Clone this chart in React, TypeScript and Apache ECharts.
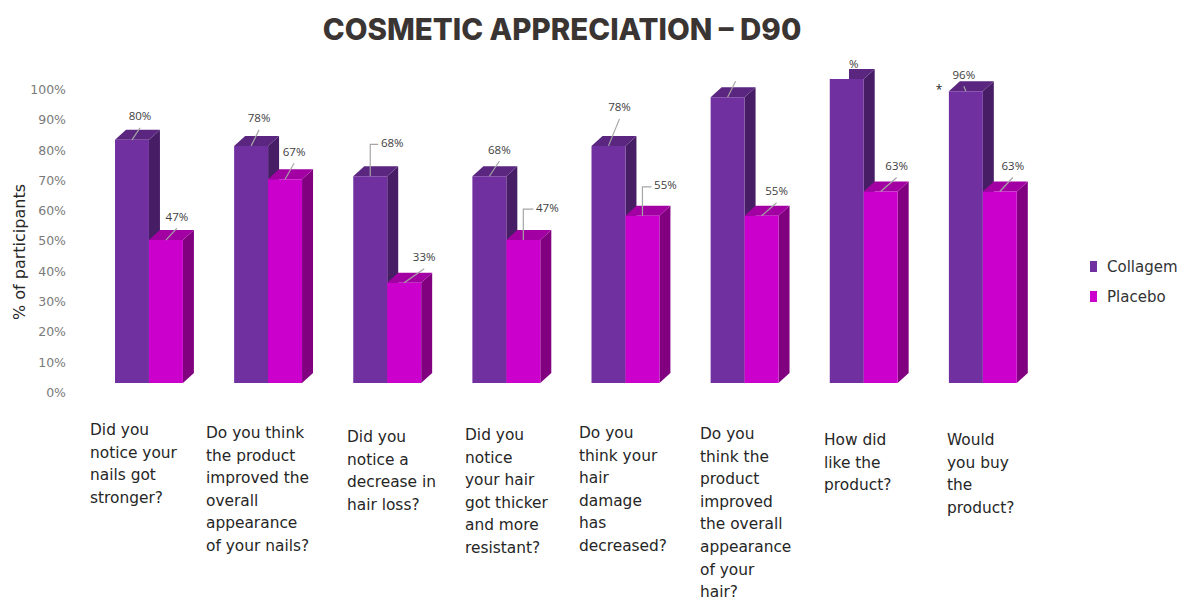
import React, { useEffect, useRef } from "react";
import * as echarts from "echarts";

const chartTitle = "COSMETIC APPRECIATION – D90";
const yTicks = ["0%", "10%", "20%", "30%", "40%", "50%", "60%", "70%", "80%", "90%", "100%"];
const questions = [
  ["Did you", "notice your", "nails got", "stronger?"],
  ["Do you think", "the product", "improved the", "overall", "appearance", "of your nails?"],
  ["Did you", "notice a", "decrease in", "hair loss?"],
  ["Did you", "notice", "your hair", "got thicker", "and more", "resistant?"],
  ["Do you", "think your", "hair", "damage", "has", "decreased?"],
  ["Do you", "think the", "product", "improved", "the overall", "appearance", "of your", "hair?"],
  ["How did", "like the", "product?"],
  ["Would", "you buy", "the", "product?"],
];
const collagen = [80, 78, 68, 68, 78, 94, 100, 96];
const placebo = [47, 67, 33, 47, 55, 55, 63, 63];
const collagenCaptions = ["80%", "78%", "68%", "68%", "78%", "", "%", "96%"];
const placeboCaptions = ["47%", "67%", "33%", "47%", "55%", "55%", "63%", "63%"];

// Caption placement relative to the centre of a bar's front top edge: [dx, dy, leader kind]
// Leader kinds: 0 none, 1 straight, 2 elbow.
const collagenCallouts = [
  [8, -24, 1], [8, -28, 1], [22, -34, 2], [10, -27, 1],
  [11, -39, 1], [8, -28, 1], [7, -16, 0], [-2, -17, 1],
];
const placeboCallouts = [
  [11, -24, 1], [9, -28, 1], [20, -26, 1], [24, -33, 2],
  [23, -31, 2], [15, -25, 1], [16, -26, 1], [13, -26, 1],
];
// Left edge and first-line centre of each question block.
const questionAnchors = [
  [90, 430], [206, 433], [347, 437], [465, 435],
  [579, 433], [700, 434], [824, 440], [947, 440],
];

const BODY_FONT = "'DejaVu Sans', sans-serif";
const LABEL_FONT = "'Open Sans', sans-serif";
const QUESTION_LINE_STEP = 22.6;
const DEPTH_X = 11;
const DEPTH_Y = 10;

function barRenderer(shift: number, faces: string[], captions: string[], callouts: number[][]) {
  return (params: any, api: any) => {
    const i = api.value(0);
    const [cx, yTop] = api.coord([i, api.value(1)]);
    const [, yBase] = api.coord([i, 0]);
    const w = api.size([1, 0])[0] * 0.285;
    const barCx = cx + shift * w;
    const x0 = barCx - w / 2;
    const x1 = barCx + w / 2;
    const [dx, dy, leader] = callouts[i];
    const lx = barCx + dx;
    const ly = yTop + dy;
    const children: any[] = [
      {
        type: "polygon",
        shape: { points: [[x1, yBase], [x1 + DEPTH_X, yBase - DEPTH_Y], [x1 + DEPTH_X, yTop - DEPTH_Y], [x1, yTop]] },
        style: { fill: faces[1] },
      },
      {
        type: "polygon",
        shape: { points: [[x0, yTop], [x0 + DEPTH_X, yTop - DEPTH_Y], [x1 + DEPTH_X, yTop - DEPTH_Y], [x1, yTop]] },
        style: { fill: faces[2] },
      },
      { type: "rect", shape: { x: x0, y: yTop, width: w, height: yBase - yTop }, style: { fill: faces[0] } },
    ];
    if (leader === 1) {
      children.push({
        type: "line",
        shape: { x1: barCx, y1: yTop, x2: lx, y2: ly + 12 },
        style: { stroke: "#a6a6a6", lineWidth: 1.2, fill: "none" },
      });
    }
    if (leader === 2) {
      children.push({
        type: "polyline",
        shape: { points: [[barCx, yTop], [barCx, ly + 2], [lx - 14, ly + 2]] },
        style: { stroke: "#a6a6a6", lineWidth: 1.2, fill: "none" },
      });
    }
    if (captions[i]) {
      children.push({
        type: "text",
        x: lx,
        y: ly,
        style: {
          text: captions[i],
          fill: "#404040",
          font: `11.5px ${LABEL_FONT}`,
          align: "center",
          verticalAlign: "middle",
        },
      });
    }
    return { type: "group", children };
  };
}

export default function App() {
  const ref = useRef<HTMLDivElement>(null);

  useEffect(() => {
    const chart = echarts.init(ref.current!, undefined, { renderer: "svg" });
    const indexed = (values: number[]) => values.map((v, i) => [i, v]);

    // Each question is laid out line by line under its own anchor.
    const questionTexts = questions.flatMap((lines, i) =>
      lines.map((line, n) => ({
        type: "text",
        x: questionAnchors[i][0],
        y: questionAnchors[i][1] + n * QUESTION_LINE_STEP,
        z: 20,
        style: {
          text: line,
          fill: "#262626",
          font: `15.4px ${BODY_FONT}`,
          align: "left",
          verticalAlign: "middle",
        },
      }))
    );

    chart.setOption({
      animation: false,
      backgroundColor: "#ffffff",
      title: {
        text: chartTitle,
        left: 557,
        top: 9,
        textAlign: "center",
        textStyle: { fontFamily: "Inter, sans-serif", fontSize: 29.5, fontWeight: 800, color: "#3a3533" },
      },
      legend: {
        orient: "vertical",
        left: 1085,
        top: 254,
        icon: "rect",
        itemWidth: 7,
        itemHeight: 11,
        itemGap: 15,
        data: ["Collagem", "Placebo"],
        textStyle: { fontFamily: BODY_FONT, fontSize: 15, color: "#333333", padding: [0, 0, 4, 5] },
      },
      grid: [
        { left: 89.4, top: 79, width: 953, height: 304 },
        { left: 70, top: 89.4, width: 10, height: 303 },
      ],
      xAxis: [
        {
          type: "category",
          gridIndex: 0,
          data: questions.map((q) => q.join(" ")),
          axisLine: { show: false },
          axisTick: { show: false },
          axisLabel: { show: false },
        },
        { type: "category", gridIndex: 1, show: false, data: [""] },
      ],
      yAxis: [
        { type: "value", gridIndex: 0, min: 0, max: 100, interval: 10, show: false },
        {
          type: "value",
          gridIndex: 1,
          min: 0,
          max: 100,
          interval: 10,
          axisLine: { show: false },
          axisTick: { show: false },
          splitLine: { show: false },
          axisLabel: {
            margin: 4,
            color: "#7a7a7a",
            fontFamily: BODY_FONT,
            fontSize: 12.5,
            formatter: (v: number) => yTicks[v / 10],
          },
        },
      ],
      series: [
        {
          name: "Collagem",
          type: "custom",
          xAxisIndex: 0,
          yAxisIndex: 0,
          itemStyle: { color: "#7030a0" },
          encode: { x: 0, y: 1 },
          data: indexed(collagen),
          clip: false,
          renderItem: barRenderer(-0.5, ["#7030a0", "#471e66", "#5a2680"], collagenCaptions, collagenCallouts),
        },
        {
          name: "Placebo",
          type: "custom",
          xAxisIndex: 0,
          yAxisIndex: 0,
          itemStyle: { color: "#cc00cc" },
          encode: { x: 0, y: 1 },
          data: indexed(placebo),
          clip: false,
          renderItem: barRenderer(0.5, ["#cc00cc", "#800080", "#a300a3"], placeboCaptions, placeboCallouts),
        },
      ],
      graphic: [
        // White patch over the top of the seventh Collagem bar.
        { type: "rect", z: 30, shape: { x: 826, y: 55, width: 23, height: 24 }, style: { fill: "#ffffff" } },
        {
          type: "text",
          x: 939,
          y: 89,
          z: 30,
          style: { text: "*", fill: "#262626", font: `12px ${LABEL_FONT}`, align: "center", verticalAlign: "middle" },
        },
        {
          type: "text",
          x: 19,
          y: 252,
          z: 30,
          rotation: Math.PI / 2,
          style: {
            text: "% of participants",
            fill: "#262626",
            font: `16px ${BODY_FONT}`,
            align: "center",
            verticalAlign: "middle",
          },
        },
        ...questionTexts,
      ],
    });

    return () => chart.dispose();
  }, []);

  return <div ref={ref} style={{ position: "absolute", left: 0, top: 0, width: 1191, height: 600 }} />;
}
